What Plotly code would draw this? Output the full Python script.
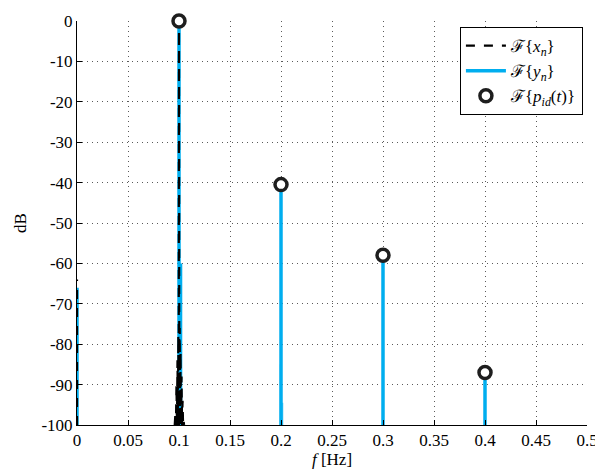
import plotly.graph_objects as go

# ---- data ----
# F{x_n}: spectrum around 0 and 0.1 Hz (dB, floor -100)
fx = [0.0, 0.0, None,
      0.0958, 0.0965, 0.0970, 0.0975, 0.0980, 0.0985, 0.0990, 0.0993, 0.0997,
      0.1000, 0.1003, 0.1007, 0.1011, 0.1015, 0.1020, 0.1025, 0.1030, 0.1035, 0.1040, 0.1045, 0.1050]
dbx = [-100, -64, None,
       -100, -97, -100, -90, -100, -84, -100, -78, -100,
       0, -100, -76, -100, -82, -100, -88, -100, -94, -100, -99, -100]

# F{y_n}: main spectral lines
fy = [0.0, 0.1, 0.1015, 0.2, 0.3, 0.4]
dby = [-66, 0, -60, -40.5, -58, -87]
# faint side lines of F{y_n}
fy_faint = [0.1995, 0.2015]
dby_faint = [-85, -94.5]

# F{p_id(t)}: ideal harmonic levels
fp = [0.1, 0.2, 0.3, 0.4]
dbp = [0, -40.5, -58, -87]

floor_db = -100
xticks = [0, 0.05, 0.1, 0.15, 0.2, 0.25, 0.3, 0.35, 0.4, 0.45, 0.5]
xticklabels = ["0", "0.05", "0.1", "0.15", "0.2", "0.25", "0.3", "0.35", "0.4", "0.45", "0.5"]
yticks = [0, -10, -20, -30, -40, -50, -60, -70, -80, -90, -100]
yticklabels = ["0", "-10", "-20", "-30", "-40", "-50", "-60", "-70", "-80", "-90", "-100"]

CYAN = "rgb(0,174,239)"
SERIF = "Liberation Serif, Times New Roman, DejaVu Serif, serif"


def stems(fs, vs):
    xs, ys = [], []
    for f, v in zip(fs, vs):
        xs += [f, f, None]
        ys += [floor_db, v, None]
    return xs, ys


fig = go.Figure()

sx, sy = stems(fy_faint, dby_faint)
fig.add_trace(go.Scatter(x=sx, y=sy, mode="lines", showlegend=False,
                         line=dict(color="rgba(0,174,239,0.6)", width=1.5),
                         cliponaxis=False, hoverinfo="skip"))

sx, sy = stems(fy, dby)
fig.add_trace(go.Scatter(x=sx, y=sy, mode="lines", name="ℱ{<i>y<sub>n</sub></i>}",
                         line=dict(color=CYAN, width=3.5), legendrank=2,
                         cliponaxis=False))

fig.add_trace(go.Scatter(x=fx, y=dbx, mode="lines", name="ℱ{<i>x<sub>n</sub></i>}",
                         line=dict(color="black", width=2.2, dash="dash"), legendrank=1,
                         cliponaxis=False))

fig.add_trace(go.Scatter(x=fp, y=dbp, mode="markers", name="ℱ{<i>p<sub>id</sub></i>(<i>t</i>)}",
                         marker=dict(symbol="circle", size=12, color="white",
                                     line=dict(color="rgb(30,30,30)", width=3.5)),
                         legendrank=3, cliponaxis=False))

axis_common = dict(showline=True, linecolor="black", linewidth=1, mirror=False,
                   ticks="inside", ticklen=5, tickcolor="black",
                   showgrid=True, gridcolor="rgb(90,90,90)", griddash="1px,4px", gridwidth=1,
                   zeroline=False, automargin=False,
                   tickfont=dict(family=SERIF, size=17, color="black"))

# the page body has an 8px margin, so the figure is sized 8px smaller
fig.update_layout(
    width=595, height=462,
    margin=dict(l=69, r=16, t=13, b=45),
    paper_bgcolor="white", plot_bgcolor="white",
    font=dict(family=SERIF, size=17, color="black"),
    xaxis=dict(range=[0, 0.5], tickvals=xticks, ticktext=xticklabels,
               title=dict(text="<i>f</i> [Hz]", standoff=2,
                          font=dict(family=SERIF, size=17)),
               **axis_common),
    yaxis=dict(range=[-100, 0], tickvals=yticks, ticktext=yticklabels,
               title=dict(text="dB", standoff=10,
                          font=dict(family=SERIF, size=17)),
               **axis_common),
    legend=dict(x=0.992, y=0.985, xanchor="right", yanchor="top",
                bgcolor="white", bordercolor="black", borderwidth=1,
                font=dict(family=SERIF, size=17),
                tracegroupgap=0, itemwidth=40),
    showlegend=True,
)

fig.write_html("out.html")
